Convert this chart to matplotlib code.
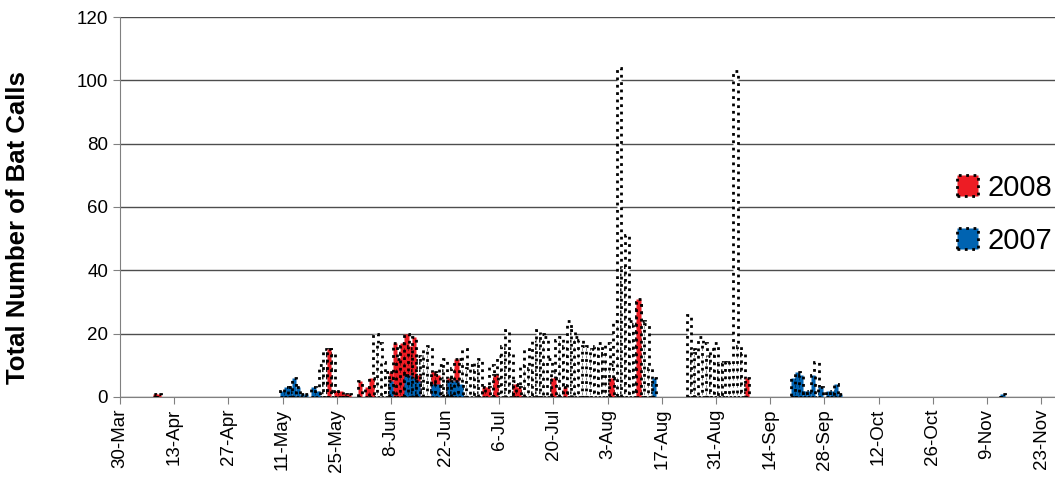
import matplotlib
matplotlib.use("Agg")
import matplotlib.pyplot as plt
from matplotlib.patches import Patch

plt.rcParams['font.family'] = ['Liberation Sans', 'DejaVu Sans']

# day offsets counted from 30-Mar
white_days = [52, 53, 54, 55, 66, 67, 68, 69, 72, 73, 74, 75, 76, 77, 78, 79, 80,
              83, 84, 86, 88, 89, 90, 91, 92, 93, 96, 98, 99, 100, 101, 102,
              104, 105, 106, 107, 108, 109, 110, 111, 112, 113, 114, 115, 116, 117,
              118, 119, 120, 121, 122, 123, 124, 125, 126, 127, 128,
              129, 130, 131, 132, 133, 134, 135, 136, 137,
              147, 148, 149, 150, 151, 152, 153, 154, 155, 156, 157, 158, 159, 160, 161,
              180]
white_vals = [10, 15, 15, 14, 20, 17, 11, 8, 10, 16, 14, 14, 14, 13, 13, 15, 16,
              10, 12, 9, 12, 15, 9, 10, 11, 12, 10, 13, 16, 21, 14, 5,
              10, 15, 9, 18, 21, 20, 19, 12, 8, 18, 19, 16, 24, 21,
              19, 18, 16, 16, 15, 16, 17, 14, 17, 10, 24,
              104, 41, 51, 24, 23, 30, 24, 23, 9,
              26, 15, 14, 19, 17, 13, 15, 17, 11, 11, 11, 11, 103, 16, 14,
              11]

red_days = [9, 10, 54, 56, 57, 58, 59, 62, 64, 65, 70, 71, 72, 73, 74, 75, 76, 77,
            81, 82, 85, 87, 94, 95, 97, 102, 103, 112, 115, 127, 134, 162]
red_vals = [1, 1, 15, 2, 2, 1, 1, 5, 3, 6, 8, 17, 12, 17, 20, 16, 19, 7,
            8, 7, 6, 12, 3, 3, 7, 4, 3, 6, 3, 6, 31, 6]

blue_days = [42, 43, 44, 45, 46, 47, 48, 50, 51, 70, 74, 75, 76, 77, 81, 82,
             85, 86, 87, 88, 138, 174, 175, 176, 177, 178, 179, 181, 183, 184,
             185, 186, 228]
blue_vals = [2, 3, 3, 6, 3, 1, 1, 3, 2, 5, 7, 7, 6, 5, 4, 4,
             5, 5, 5, 4, 6, 6, 8, 7, 2, 2, 7, 3, 2, 2,
             4, 1, 1]

tick_labels = ['30-Mar', '13-Apr', '27-Apr', '11-May', '25-May', '8-Jun', '22-Jun',
               '6-Jul', '20-Jul', '3-Aug', '17-Aug', '31-Aug', '14-Sep', '28-Sep',
               '12-Oct', '26-Oct', '9-Nov', '23-Nov']

red = '#ED1C24'
blue = '#0063B1'

fig = plt.figure(figsize=(10.55, 4.79), dpi=100)
ax = fig.add_axes([0.1137, 0.1712, 0.886, 0.7933])

bar_kw = dict(width=1.15, edgecolor='black', linestyle=':', linewidth=2.0, align='center')
ax.bar(white_days, white_vals, color='white', zorder=2, **bar_kw)
ax.bar(red_days, red_vals, color=red, zorder=3, **bar_kw)
ax.bar(blue_days, blue_vals, color=blue, zorder=4, **bar_kw)

ax.set_xlim(0, 241.5)
ax.set_ylim(0, 120)
ax.set_yticks(range(0, 121, 20))
ax.set_xticks([14 * i for i in range(len(tick_labels))])
ax.set_xticklabels(tick_labels, rotation=90, fontsize=13.5)
ax.tick_params(axis='y', labelsize=13.5, direction='out', length=5, color='#808080')
ax.tick_params(axis='x', direction='out', length=5, color='#808080')
ax.yaxis.grid(True, color='#4d4d4d', linewidth=1.0, zorder=0)
ax.set_axisbelow(True)
for s in ['top', 'right']:
    ax.spines[s].set_visible(False)
for s in ['left', 'bottom']:
    ax.spines[s].set_color('#808080')

ax.set_ylabel('Total Number of Bat Calls', fontsize=18.5, fontweight='bold')
ax.yaxis.set_label_coords(-0.096, 0.447)

handles = [Patch(facecolor=red, edgecolor='black', linestyle=':', linewidth=2.0, label='2008'),
           Patch(facecolor=blue, edgecolor='black', linestyle=':', linewidth=2.0, label='2007')]
fig.legend(handles=handles, loc='center right', bbox_to_anchor=(1.022, 0.553),
           frameon=False, fontsize=21, handlelength=0.75, handleheight=0.75,
           handletextpad=0.3, labelspacing=0.85)

fig.savefig('out.png', dpi=100)
